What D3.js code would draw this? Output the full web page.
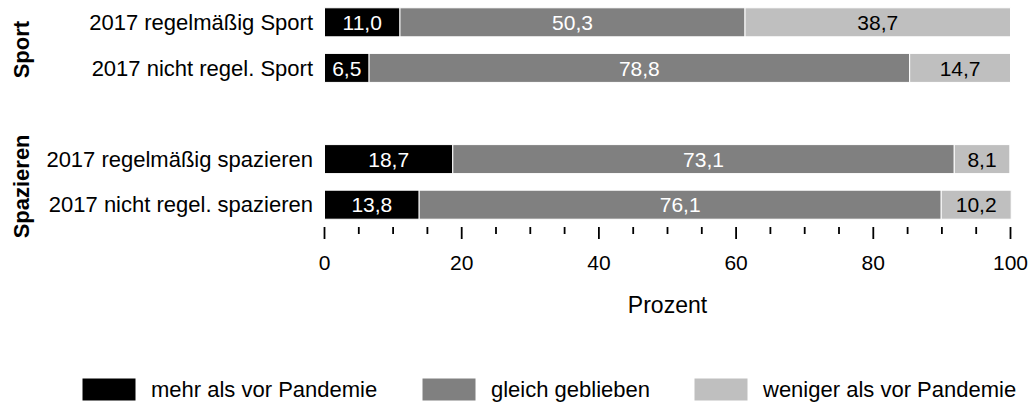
<!DOCTYPE html>
<html><head><meta charset="utf-8">
<script src="https://cdn.jsdelivr.net/npm/d3@7"></script>
<style>body{margin:0;background:#fff}svg{display:block;font-family:"Liberation Sans",Arial,sans-serif}</style>
</head><body><svg id="c" width="1031" height="403"></svg>
<script>
const rowKeys = ["r1","r2","gap","r3","r4"];
const categories = ["2017 regelmäßig Sport","2017 nicht regel. Sport","2017 regelmäßig spazieren","2017 nicht regel. spazieren"];
const rowIds = ["r1","r2","r3","r4"];
const groups = ["Sport","Spazieren"];
const groupRows = [["r1","r2"],["r3","r4"]];
const mehr = [11.0, 6.5, 18.7, 13.8];
const gleich = [50.3, 78.8, 73.1, 76.1];
const weniger = [38.7, 14.7, 8.1, 10.2];
const seriesNames = ["mehr als vor Pandemie","gleich geblieben","weniger als vor Pandemie"];
const seriesColors = ["#000000","#808080","#bfbfbf"];
const labelColors = ["#ffffff","#ffffff","#000000"];
const majorTicks = [0,20,40,60,80,100];
const minorTicks = d3.range(0,101,5);
const xTitle = "Prozent";

const svg = d3.select("#c");
const x = d3.scaleLinear().domain([0,100]).range([324.5,1010.5]);
const y = d3.scalePoint().domain(rowKeys).range([22.3,204.7]);
const bh = 29;

const series = [mehr, gleich, weniger];
categories.forEach((cat,i) => {
  const cy = y(rowIds[i]);
  let acc = 0;
  series.forEach((s,k) => {
    const v = s[i];
    const x0 = x(acc), x1 = x(acc+v);
    svg.append("rect").attr("x",x0).attr("y",cy-bh/2).attr("width",x1-x0).attr("height",bh)
      .attr("fill",seriesColors[k]).attr("stroke","#fff").attr("stroke-width",1);
    svg.append("text").attr("x",(x0+x1)/2).attr("y",cy+7.6)
      .attr("text-anchor","middle").attr("font-size",21).attr("fill",labelColors[k])
      .text(d3.format(".1f")(v).replace(".",","));
    acc += v;
  });
  svg.append("text").attr("x",313).attr("y",cy+7.7).attr("text-anchor","end")
    .attr("font-size",22).attr("fill","#000").text(cat);
});

groups.forEach((g,j) => {
  const cy = (y(groupRows[j][0]) + y(groupRows[j][1]))/2 + 4.5;
  svg.append("text").attr("transform",`translate(29,${cy}) rotate(-90)`).attr("text-anchor","middle")
    .attr("font-size",22).attr("font-weight","bold").text(g);
});

// axis
const axisY = 227;
svg.append("g").selectAll("line").data(minorTicks).join("line")
  .attr("x1",d=>x(d)).attr("x2",d=>x(d)).attr("y1",axisY)
  .attr("y2",d=>majorTicks.includes(d)?axisY+12:axisY+7)
  .attr("stroke","#000").attr("stroke-width",1.8);
svg.append("g").selectAll("text").data(majorTicks).join("text")
  .attr("x",d=>x(d)).attr("y",270).attr("text-anchor","middle").attr("font-size",21).text(d=>d);
svg.append("text").attr("x",(x(0)+x(100))/2).attr("y",313).attr("text-anchor","middle")
  .attr("font-size",23).text(xTitle);

// legend
const legX = [82,422,694];
seriesNames.forEach((n,k) => {
  svg.append("rect").attr("x",legX[k]).attr("y",378).attr("width",54).attr("height",23)
    .attr("fill",seriesColors[k]).attr("stroke","#fff").attr("stroke-width",1);
  svg.append("text").attr("x",legX[k]+69).attr("y",397)
    .attr("font-size",22).text(n);
});
</script></body></html>
